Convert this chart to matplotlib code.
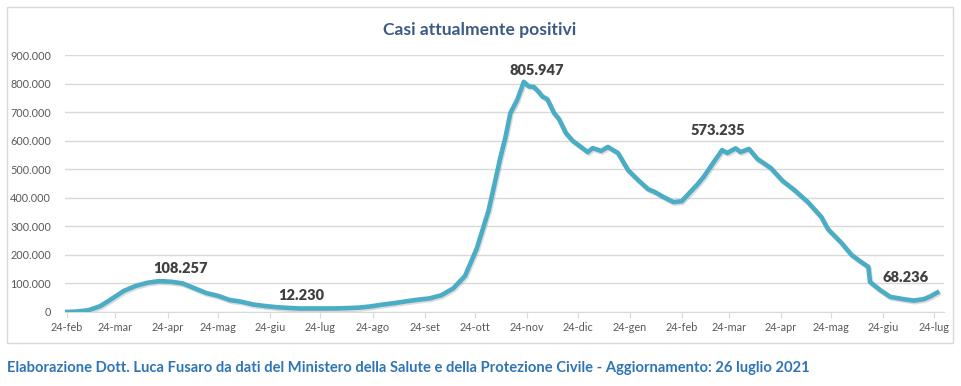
import numpy as np
import pandas as pd
import matplotlib
matplotlib.use("Agg")
import matplotlib.pyplot as plt
import matplotlib.patheffects as pe
from matplotlib.patches import Rectangle

plt.rcParams['font.family'] = ['Lato', 'DejaVu Sans']

# dati (casi attualmente positivi)
dates = ["2020-02-24", "2020-03-01", "2020-03-08", "2020-03-15", "2020-03-22", "2020-03-29",
         "2020-04-05", "2020-04-12", "2020-04-19", "2020-04-26", "2020-05-03", "2020-05-10",
         "2020-05-17", "2020-05-24", "2020-05-31", "2020-06-07", "2020-06-14", "2020-06-21",
         "2020-06-28", "2020-07-05", "2020-07-12", "2020-07-19", "2020-07-26", "2020-08-02",
         "2020-08-09", "2020-08-16", "2020-08-23", "2020-08-30", "2020-09-06", "2020-09-13",
         "2020-09-20", "2020-09-27", "2020-10-04", "2020-10-11", "2020-10-18", "2020-10-25",
         "2020-11-01", "2020-11-05", "2020-11-08", "2020-11-11", "2020-11-14", "2020-11-18",
         "2020-11-22", "2020-11-25", "2020-11-28", "2020-12-01", "2020-12-03", "2020-12-06",
         "2020-12-10", "2020-12-13", "2020-12-17", "2020-12-21", "2020-12-26", "2020-12-30",
         "2021-01-02", "2021-01-07", "2021-01-11", "2021-01-17", "2021-01-23", "2021-01-29",
         "2021-02-04", "2021-02-08", "2021-02-13", "2021-02-19", "2021-02-24", "2021-03-01",
         "2021-03-05", "2021-03-09", "2021-03-15", "2021-03-20", "2021-03-23", "2021-03-28",
         "2021-03-31", "2021-04-05", "2021-04-10", "2021-04-18", "2021-04-25", "2021-05-02",
         "2021-05-10", "2021-05-18", "2021-05-22", "2021-05-30", "2021-06-05", "2021-06-10",
         "2021-06-15", "2021-06-16", "2021-06-22", "2021-06-28", "2021-07-06", "2021-07-12",
         "2021-07-18", "2021-07-22", "2021-07-26"]
positivi = [221, 1577, 6387, 20603, 46638, 73880,
            91246, 102253, 108257, 106103, 100179, 83324,
            66553, 56594, 42075, 35877, 26274, 20972,
            16836, 14242, 12230, 12440, 12404, 12482,
            13791, 15360, 19714, 26078, 31194, 37503,
            43161, 47718, 58903, 82764, 126237, 222241,
            355000, 460000, 540000, 610000, 697000, 742000,
            805947, 790000, 788000, 770000, 755000, 745000,
            697000, 675000, 627000, 600000, 578000, 560000,
            574000, 564000, 578000, 557000, 497000, 462000,
            430000, 420000, 403000, 385000, 388000, 420000,
            445000, 473000, 525000, 567000, 557000, 573235,
            560000, 571000, 536000, 504000, 459000, 427000,
            385000, 333000, 290000, 242000, 200000, 178000,
            158000, 105000, 77000, 53000, 45000, 40000,
            45000, 55000, 68236]

tick_dates = ["2020-02-24", "2020-03-24", "2020-04-24", "2020-05-24", "2020-06-24", "2020-07-24",
              "2020-08-24", "2020-09-24", "2020-10-24", "2020-11-24", "2020-12-24", "2021-01-24",
              "2021-02-24", "2021-03-24", "2021-04-24", "2021-05-24", "2021-06-24", "2021-07-24"]
tick_labels = ["24-feb", "24-mar", "24-apr", "24-mag", "24-giu", "24-lug", "24-ago", "24-set",
               "24-ott", "24-nov", "24-dic", "24-gen", "24-feb", "24-mar", "24-apr", "24-mag",
               "24-giu", "24-lug"]

# etichette dei valori: (data, valore, scostamento in pixel)
label_dates = ["2020-04-19", "2020-07-12", "2020-11-22", "2021-03-28", "2021-07-26"]
label_vals = [108257, 12230, 805947, 573235, 68236]
label_offs = [(21, 13), (1, 13), (13, 11), (-18, 18), (-32, 15)]

x = pd.to_datetime(dates)
W, H = 961, 386
fig = plt.figure(figsize=(W / 100, H / 100), dpi=100)
fig.patch.set_facecolor('white')

# cornice del grafico
fig.patches.append(Rectangle((7 / W, 1 - 343 / H), 946 / W, 336 / H, transform=fig.transFigure,
                             facecolor='none', edgecolor='#D9D9D9', linewidth=1))

ax = fig.add_axes([65 / W, 1 - 312 / H, 879 / W, 257 / H])
ax.plot(x, positivi, color='#4BACC6', linewidth=3.3, solid_joinstyle='round',
        path_effects=[pe.SimpleLineShadow(offset=(0.8, -1.2), shadow_color='#9a9a9a', alpha=0.35),
                      pe.Normal()], zorder=3)

ax.set_ylim(0, 900000)
ax.set_xlim(pd.Timestamp("2020-02-23"), pd.Timestamp("2021-07-30"))
yt = np.arange(0, 900001, 100000)
ax.set_yticks(yt)
ax.set_yticklabels(["0" if v == 0 else f"{v:,.0f}".replace(",", ".") for v in yt])
ax.set_xticks(pd.to_datetime(tick_dates))
ax.set_xticklabels(tick_labels)
ax.grid(axis='y', color='#D9D9D9', linewidth=1)
ax.set_axisbelow(True)
for s in ['top', 'right', 'left']:
    ax.spines[s].set_visible(False)
ax.spines['bottom'].set_color('#D9D9D9')
ax.tick_params(axis='y', length=0, pad=10, labelsize=7.8, labelcolor='#595959')
ax.tick_params(axis='x', length=4, color='#D9D9D9', pad=3, labelsize=7.8, labelcolor='#595959')

for d, v, off in zip(label_dates, label_vals, label_offs):
    ax.annotate(f"{v:,.0f}".replace(",", "."), xy=(pd.Timestamp(d), v), xytext=off,
                textcoords='offset pixels', ha='center', va='center',
                fontsize=10.5, fontweight='heavy', color='#404040')

fig.text(480 / W, 1 - 30 / H, "Casi attualmente positivi", ha='center', va='center',
         fontsize=12.6, fontweight='bold', color='#3B5B86')
fig.text(7 / W, 1 - 368 / H,
         "Elaborazione Dott. Luca Fusaro da dati del Ministero della Salute e della Protezione Civile - Aggiornamento: 26 luglio 2021",
         ha='left', va='center', fontsize=10.6, fontweight='bold', color='#2E75B6')

fig.savefig("out.png", dpi=100)
